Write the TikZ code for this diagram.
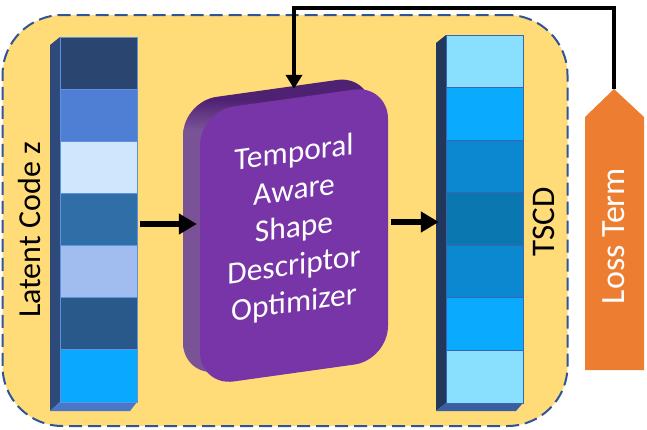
\documentclass[tikz,border=0pt]{standalone}
\usepackage{fontspec}
\setmainfont{Carlito}
\usetikzlibrary{arrows.meta}
\definecolor{yel}{HTML}{FFDC78}
\definecolor{dashblue}{HTML}{2F5597}
\definecolor{purfront}{HTML}{7835A8}
\definecolor{purside}{HTML}{7A5296}
\definecolor{purtop}{HTML}{4E2173}
\definecolor{lossor}{HTML}{ED7D31}
\definecolor{la}{HTML}{2B4571}
\definecolor{lb}{HTML}{4F7FD4}
\definecolor{lc}{HTML}{CFE6FD}
\definecolor{ld}{HTML}{2F6EA7}
\definecolor{le}{HTML}{A1BDEF}
\definecolor{lf}{HTML}{28598A}
\definecolor{lg}{HTML}{0AA9FF}
\definecolor{lside}{HTML}{2D4A7A}
\definecolor{lbot}{HTML}{4A78C8}
\definecolor{lbord}{HTML}{5E91DE}
\definecolor{ra}{HTML}{88DFFE}
\definecolor{rb}{HTML}{0AABFF}
\definecolor{rc}{HTML}{0B88D0}
\definecolor{rd}{HTML}{0A77B1}
\definecolor{rside}{HTML}{22375C}
\definecolor{rbot}{HTML}{3A5FA0}
\definecolor{rbord}{HTML}{3A66B0}
\pgfdeclareverticalshading{pursideshade}{100bp}{color(0bp)=(purside); color(66bp)=(purside); color(71bp)=(purtop); color(100bp)=(purtop)}
\begin{document}
\begin{tikzpicture}[x=1pt,y=1pt,
  arr/.style={line width=6pt, -{Triangle[length=18pt,width=20pt]}},
  fb/.style={line width=4.5pt, -{Triangle[length=14pt,width=16pt]}},
  lbl/.style={rotate=90, inner sep=0pt},
  cellL/.style={draw=lbord, line width=0.8pt},
  cellR/.style={draw=rbord, line width=0.8pt}]
\useasboundingbox (0,0) rectangle (647,-429);
% frame
\node[draw=dashblue, fill=yel, dash pattern=on 13pt off 6pt, line width=2pt,
  rounded corners=60pt, minimum width=565pt, minimum height=411pt, inner sep=0pt]
  (frame) at (285,-220.5) {};
% left column
\fill[lside] (50,-45) -- (60,-37) -- (60,-402) -- (50,-411) -- cycle;
\fill[lbot] (50,-411) -- (60,-402) -- (137,-402) -- (130,-411) -- cycle;
\foreach \c [count=\i from 0] in {la,lb,lc,ld,le,lf,lg}
  \draw[cellL, fill=\c] (60,{-37-\i*52.14}) rectangle (137,{-37-(\i+1)*52.14});
\node[inner sep=0pt, minimum width=77pt, minimum height=365pt] (zcol) at (98.5,-219.5) {};
% right column
\fill[rside] (436,-43) -- (446,-35) -- (446,-403) -- (436,-411) -- cycle;
\fill[rbot] (436,-411) -- (446,-403) -- (523,-403) -- (516,-411) -- cycle;
\foreach \c [count=\i from 0] in {ra,rb,rc,rd,rc,rb,ra}
  \draw[cellR, fill=\c] (446,{-35-\i*52.57}) rectangle (523,{-35-(\i+1)*52.57});
\node[inner sep=0pt, minimum width=77pt, minimum height=368pt] (tcol) at (484.5,-219) {};
% labels
\node[lbl, font=\fontsize{32}{36}\selectfont] (zlabel) at (30,-230) {Latent Code z};
\node[lbl, font=\fontsize{33}{36}\selectfont] (tlabel) at (544,-222) {TSCD};
% optimizer block
\begin{scope}[shift={(294,-235.5)}, yslant=0.14]
  \node[transform shape, shading=pursideshade, rounded corners=34pt,
    minimum width=188pt, minimum height=275pt, inner sep=0pt] (optback) at (-17,12) {};
  \node[transform shape, fill=purfront, rounded corners=34pt,
    minimum width=188pt, minimum height=275pt, inner sep=0pt] (opt) at (0,0) {};
  \node[transform shape, text=white, align=center,
    font=\fontsize{31.5}{37.5}\selectfont] (opttext) at (0,6.5)
    {Temporal\\Aware\\Shape\\Descriptor\\Optimizer};
\end{scope}
% loss term
\fill[lossor] (585,-370) -- (585,-117) -- (614,-89) -- (644,-117) -- (644,-370) -- cycle;
\coordinate (lossapex) at (614,-89);
\node[lbl, text=white, font=\fontsize{34}{38}\selectfont] (loss) at (614,-236) {Loss Term};
% arrows
\draw[arr] ([xshift=3pt]zcol.east |- 0,-224) -- ([xshift=-3pt]opt.west |- 0,-224);
\draw[arr] (391,-222) -- ([xshift=-7pt]tcol.west |- 0,-222);
\draw[fb] (lossapex) -- (lossapex |- 0,-8) -| ([yshift=9pt]opt.north);
\end{tikzpicture}
\end{document}
